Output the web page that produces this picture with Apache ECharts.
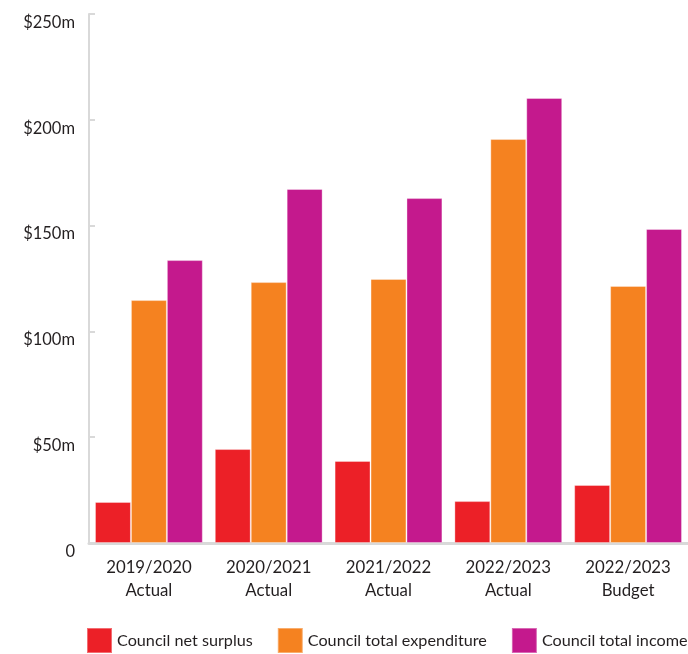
<!DOCTYPE html>
<html>
<head>
<meta charset="utf-8">
<script src="https://cdn.jsdelivr.net/npm/echarts@6/dist/echarts.min.js"></script>
<style>html,body{margin:0;padding:0;background:#fff}#c{width:688px;height:654px}</style>
</head>
<body>
<div id="c"></div>
<script>
const categories = ['2019/2020\nActual', '2020/2021\nActual', '2021/2022\nActual', '2022/2023\nActual', '2022/2023\nBudget'];
const seriesNames = ['Council net surplus', 'Council total expenditure', 'Council total income'];
const netSurplus = [19.4, 44.4, 38.8, 19.8, 27.4];
const totalExpenditure = [114.8, 123.3, 124.8, 190.9, 121.5];
const totalIncome = [133.7, 167.3, 163.0, 210.3, 148.4];
const yTicks = [0, 50, 100, 150, 200, 250];
const colors = ['#ec2027', '#f58220', '#c4198d'];

const font = 'Lato, "Open Sans", sans-serif';
const chart = echarts.init(document.getElementById('c'));
const values = [netSurplus, totalExpenditure, totalIncome];
chart.setOption({
  animation: false,
  textStyle: { fontFamily: font },
  grid: { left: 89, right: 0, top: 14, bottom: 111, containLabel: false },
  legend: {
    left: 86, top: 627, width: 1200, padding: 0,
    itemWidth: 25, itemHeight: 25, itemGap: 24,
    icon: 'rect',
    textStyle: { fontFamily: font, fontSize: 16.2, color: '#231f20', padding: [4, 0, 0, 0] },
    data: seriesNames
  },
  xAxis: {
    type: 'category',
    data: categories,
    axisLine: { lineStyle: { color: '#d9d9d9', width: 3 } },
    axisTick: { show: false },
    axisLabel: { fontFamily: font, fontSize: 16.8, color: '#231f20', lineHeight: 23, margin: 13, interval: 0 }
  },
  yAxis: {
    type: 'value',
    min: yTicks[0], max: yTicks[yTicks.length - 1], interval: 50,
    splitLine: { show: false },
    axisLine: { show: true, lineStyle: { color: '#d9d9d9', width: 2 } },
    axisTick: { show: true, inside: true, length: 6, lineStyle: { color: '#d9d9d9', width: 2 } },
    axisLabel: {
      fontFamily: font, fontSize: 16.5, color: '#231f20', margin: 14,
      verticalAlign: 'top',
      formatter: v => v === 0 ? '0' : '$' + v + 'm'
    }
  },
  series: seriesNames.map((n, i) => ({
    name: n,
    type: 'bar',
    data: values[i],
    barGap: '0%',
    barCategoryGap: '10%',
    itemStyle: { color: colors[i], borderColor: 'rgba(255,255,255,0.35)', borderWidth: 1 }
  }))
});
</script>
</body>
</html>
